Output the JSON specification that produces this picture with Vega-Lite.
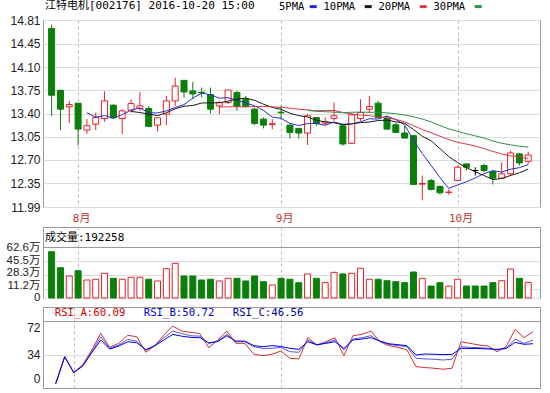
{
  "$schema": "https://vega.github.io/schema/vega-lite/v6.json",
  "autosize": {"type": "none"},
  "padding": {"left": 43, "top": 20, "right": 507, "bottom": 373},
  "background": "#ffffff",
  "config": {
    "view": {"stroke": "#9a9a9a", "strokeWidth": 1},
    "axis": {"labelFont": "Liberation Sans, Noto Sans CJK SC", "labelFontSize": 12, "labelColor": "#222222", "ticks": false, "domain": false, "gridColor": "#dcdcdc", "title": null, "labelOverlap": false},
    "title": {"font": "DejaVu Sans Mono, Noto Sans CJK SC", "fontSize": 11, "fontWeight": "normal", "color": "#000000", "anchor": "start", "frame": "group"}
  },
  "resolve": {"scale": {"color": "independent", "stroke": "independent"}, "legend": {"color": "independent", "stroke": "independent"}},
  "datasets": {
    "k": [
      {"i":0,"date":"2016-07-27","open":14.68,"high":14.74,"low":13.365,"close":13.675,"vol":56.8,"ra":null,"rb":null,"rc":null},
      {"i":1,"date":"2016-07-28","open":13.75,"high":13.75,"low":13.15,"close":13.465,"vol":37.2,"ra":2,"rb":2,"rc":2},
      {"i":2,"date":"2016-07-29","open":13.5,"high":13.59,"low":13.255,"close":13.535,"vol":27.0,"ra":32,"rb":32,"rc":32},
      {"i":3,"date":"2016-08-01","open":13.555,"high":13.555,"low":12.915,"close":13.165,"vol":33.5,"ra":14.4,"rb":14.4,"rc":14.4},
      {"i":4,"date":"2016-08-02","open":13.15,"high":13.315,"low":13.09,"close":13.215,"vol":22.1,"ra":23,"rb":22,"rc":21.5},
      {"i":5,"date":"2016-08-03","open":13.24,"high":13.415,"low":13.15,"close":13.34,"vol":23.0,"ra":39.6,"rb":37.5,"rc":36.5},
      {"i":6,"date":"2016-08-04","open":13.325,"high":13.735,"low":13.275,"close":13.59,"vol":30.3,"ra":58,"rb":54.4,"rc":50.7},
      {"i":7,"date":"2016-08-05","open":13.525,"high":13.54,"low":13.325,"close":13.335,"vol":24.2,"ra":42.5,"rb":41.4,"rc":40.5},
      {"i":8,"date":"2016-08-08","open":13.325,"high":13.465,"low":13.09,"close":13.44,"vol":23.0,"ra":47,"rb":45,"rc":44},
      {"i":9,"date":"2016-08-09","open":13.45,"high":13.615,"low":13.415,"close":13.55,"vol":25.4,"ra":56,"rb":51.4,"rc":48.8},
      {"i":10,"date":"2016-08-10","open":13.475,"high":13.725,"low":13.44,"close":13.515,"vol":25.4,"ra":54.4,"rb":49.5,"rc":47.7},
      {"i":11,"date":"2016-08-11","open":13.475,"high":13.515,"low":13.205,"close":13.205,"vol":23.0,"ra":37,"rb":39,"rc":40},
      {"i":12,"date":"2016-08-12","open":13.225,"high":13.335,"low":13.13,"close":13.335,"vol":20.9,"ra":44.4,"rb":44.4,"rc":44.2},
      {"i":13,"date":"2016-08-15","open":13.39,"high":13.665,"low":13.225,"close":13.59,"vol":36.0,"ra":56.2,"rb":53.3,"rc":50.7},
      {"i":14,"date":"2016-08-16","open":13.59,"high":13.94,"low":13.515,"close":13.815,"vol":42.6,"ra":66.2,"rb":60.7,"rc":57},
      {"i":15,"date":"2016-08-17","open":13.9,"high":13.9,"low":13.64,"close":13.725,"vol":27.0,"ra":60.7,"rb":58,"rc":55},
      {"i":16,"date":"2016-08-18","open":13.74,"high":13.875,"low":13.615,"close":13.695,"vol":27.0,"ra":59.2,"rb":55.5,"rc":53.6},
      {"i":17,"date":"2016-08-19","open":13.72,"high":13.79,"low":13.64,"close":13.71,"vol":22.1,"ra":58,"rb":55,"rc":53.3},
      {"i":18,"date":"2016-08-22","open":13.685,"high":13.79,"low":13.4,"close":13.465,"vol":23.0,"ra":42.1,"rb":47,"rc":47.5},
      {"i":19,"date":"2016-08-23","open":13.515,"high":13.59,"low":13.39,"close":13.565,"vol":20.9,"ra":50.7,"rb":49.5,"rc":49},
      {"i":20,"date":"2016-08-24","open":13.565,"high":13.755,"low":13.54,"close":13.755,"vol":24.2,"ra":60.7,"rb":57,"rc":55.5},
      {"i":21,"date":"2016-08-25","open":13.715,"high":13.74,"low":13.44,"close":13.505,"vol":24.2,"ra":47,"rb":48.8,"rc":49.5},
      {"i":22,"date":"2016-08-26","open":13.615,"high":13.665,"low":13.49,"close":13.505,"vol":20.9,"ra":47,"rb":48.8,"rc":49.5},
      {"i":23,"date":"2016-08-29","open":13.465,"high":13.49,"low":13.225,"close":13.25,"vol":27.0,"ra":34.7,"rb":43.3,"rc":44.4},
      {"i":24,"date":"2016-08-30","open":13.315,"high":13.34,"low":13.175,"close":13.225,"vol":20.0,"ra":33.3,"rb":41.4,"rc":43.3},
      {"i":25,"date":"2016-08-31","open":13.235,"high":13.315,"low":13.165,"close":13.245,"vol":16.0,"ra":34.7,"rb":41.4,"rc":44.4},
      {"i":26,"date":"2016-09-01","open":13.42,"high":13.52,"low":13.31,"close":13.41,"vol":24.2,"ra":38.4,"rb":42.5,"rc":43.5},
      {"i":27,"date":"2016-09-02","open":13.225,"high":13.225,"low":13.025,"close":13.115,"vol":23.0,"ra":30.3,"rb":37.7,"rc":41.4},
      {"i":28,"date":"2016-09-05","open":13.175,"high":13.175,"low":13.025,"close":13.105,"vol":18.8,"ra":29.6,"rb":37,"rc":40.3},
      {"i":29,"date":"2016-09-06","open":13.105,"high":13.39,"low":12.925,"close":13.365,"vol":29.5,"ra":53.3,"rb":50.7,"rc":48.8},
      {"i":30,"date":"2016-09-07","open":13.34,"high":13.34,"low":13.215,"close":13.25,"vol":24.2,"ra":45.1,"rb":45.5,"rc":45.3},
      {"i":31,"date":"2016-09-08","open":13.255,"high":13.34,"low":13.225,"close":13.275,"vol":18.8,"ra":48.8,"rb":47.7,"rc":47},
      {"i":32,"date":"2016-09-09","open":13.325,"high":13.565,"low":13.29,"close":13.365,"vol":31.5,"ra":53.3,"rb":50.7,"rc":48.8},
      {"i":33,"date":"2016-09-12","open":13.215,"high":13.215,"low":12.915,"close":12.94,"vol":29.5,"ra":33.3,"rb":39.6,"rc":41.4},
      {"i":34,"date":"2016-09-13","open":12.95,"high":13.405,"low":12.94,"close":13.38,"vol":30.3,"ra":55.5,"rb":51.8,"rc":50.7},
      {"i":35,"date":"2016-09-14","open":13.325,"high":13.615,"low":13.29,"close":13.415,"vol":36.5,"ra":57,"rb":53.3,"rc":51.8},
      {"i":36,"date":"2016-09-19","open":13.465,"high":13.665,"low":13.405,"close":13.505,"vol":23.0,"ra":60.7,"rb":55.5,"rc":53.3},
      {"i":37,"date":"2016-09-20","open":13.555,"high":13.59,"low":13.33,"close":13.34,"vol":23.0,"ra":48.8,"rb":49.2,"rc":49.6},
      {"i":38,"date":"2016-09-21","open":13.325,"high":13.365,"low":13.155,"close":13.165,"vol":21.2,"ra":44.4,"rb":45.9,"rc":46.5},
      {"i":39,"date":"2016-09-22","open":13.23,"high":13.265,"low":13.105,"close":13.115,"vol":20.0,"ra":42.5,"rb":44.5,"rc":45.5},
      {"i":40,"date":"2016-09-23","open":13.105,"high":13.215,"low":13.025,"close":13.03,"vol":18.8,"ra":39.6,"rb":43.3,"rc":44.4},
      {"i":41,"date":"2016-09-26","open":13.065,"high":13.065,"low":12.33,"close":12.33,"vol":31.9,"ra":21,"rb":30.3,"rc":34},
      {"i":42,"date":"2016-09-27","open":12.335,"high":12.465,"low":12.09,"close":12.345,"vol":24.2,"ra":19.9,"rb":29.6,"rc":35},
      {"i":43,"date":"2016-09-28","open":12.39,"high":12.415,"low":12.24,"close":12.255,"vol":14.7,"ra":19.2,"rb":29.2,"rc":34.8},
      {"i":44,"date":"2016-09-29","open":12.3,"high":12.315,"low":12.175,"close":12.205,"vol":18.8,"ra":18.1,"rb":28.4,"rc":34.4},
      {"i":45,"date":"2016-09-30","open":12.21,"high":12.255,"low":12.175,"close":12.215,"vol":14.7,"ra":19.2,"rb":29.2,"rc":34.7},
      {"i":46,"date":"2016-10-10","open":12.39,"high":12.615,"low":12.39,"close":12.59,"vol":23.0,"ra":48.8,"rb":43.3,"rc":41.4},
      {"i":47,"date":"2016-10-11","open":12.64,"high":12.64,"low":12.54,"close":12.59,"vol":14.7,"ra":47,"rb":42.5,"rc":41.2},
      {"i":48,"date":"2016-10-12","open":12.54,"high":12.59,"low":12.465,"close":12.54,"vol":14.7,"ra":45.1,"rb":42.1,"rc":41.2},
      {"i":49,"date":"2016-10-13","open":12.615,"high":12.64,"low":12.515,"close":12.54,"vol":14.7,"ra":44,"rb":41.4,"rc":40.7},
      {"i":50,"date":"2016-10-14","open":12.525,"high":12.54,"low":12.33,"close":12.425,"vol":18.8,"ra":37.7,"rb":39.6,"rc":40.3},
      {"i":51,"date":"2016-10-17","open":12.425,"high":12.665,"low":12.425,"close":12.49,"vol":21.2,"ra":43.3,"rb":41.4,"rc":41.2},
      {"i":52,"date":"2016-10-18","open":12.49,"high":12.84,"low":12.465,"close":12.805,"vol":35.6,"ra":62.5,"rb":51.8,"rc":48.1},
      {"i":53,"date":"2016-10-19","open":12.79,"high":12.805,"low":12.615,"close":12.655,"vol":24.2,"ra":53.3,"rb":47,"rc":45.9},
      {"i":54,"date":"2016-10-20","open":12.68,"high":12.825,"low":12.64,"close":12.775,"vol":19.2258,"ra":60.09,"rb":50.72,"rc":46.56}
    ]
  },
  "spacing": 20,
  "bounds": "flush",
  "vconcat": [
    {
      "width": 497,
      "height": 187,
      "title": {"text": "江特电机[002176] 2016-10-20 15:00", "dx": 2, "offset": -10},
      "data": {"name": "k"},
      "encoding": {
        "x": {"field": "i", "type": "quantitative", "scale": {"domain": [-0.41, 54.77], "nice": false, "zero": false},
          "axis": {"values": [3, 26, 46], "labelExpr": "datum.value == 3 ? '8月' : datum.value == 26 ? '9月' : '10月'", "grid": true, "gridDash": [3, 3], "gridColor": "#b8b8b8", "labelColor": "#c0392b", "labelFont": "DejaVu Sans Mono, Noto Sans CJK SC", "labelFontSize": 11, "labelPadding": 5, "labelOffset": 3}}
      },
      "layer": [
        {
          "mark": {"type": "rule", "strokeWidth": 1},
          "encoding": {
            "y": {"field": "low", "type": "quantitative", "scale": {"domain": [11.99, 14.81], "nice": false, "zero": false},
              "axis": {"values": [11.99, 12.35, 12.7, 13.05, 13.4, 13.75, 14.1, 14.45, 14.81], "format": ".2f", "grid": true, "labelPadding": 3, "labelOverlap": false}},
            "y2": {"field": "high"},
            "color": {"condition": [{"test": "datum.close > datum.open", "value": "#e3202a"}, {"test": "datum.close < datum.open", "value": "#0a7f0a"}], "value": "#000000"}
          }
        },
        {
          "mark": {"type": "bar", "width": 6, "strokeWidth": 1},
          "encoding": {
            "y": {"field": "open", "type": "quantitative", "axis": {"values": [11.99, 12.35, 12.7, 13.05, 13.4, 13.75, 14.1, 14.45, 14.81], "format": ".2f", "grid": true, "labelPadding": 3, "labelOverlap": false}},
            "y2": {"field": "close"},
            "fill": {"condition": [{"test": "datum.close > datum.open", "value": "#ffffff"}, {"test": "datum.close < datum.open", "value": "#0a7f0a"}], "value": "#000000"},
            "stroke": {"condition": [{"test": "datum.close > datum.open", "value": "#e3202a"}, {"test": "datum.close < datum.open", "value": "#0a7f0a"}], "value": "#000000"}
          }
        },
        {
          "transform": [
            {"window": [{"op": "mean", "field": "close", "as": "ma5"}], "frame": [-4, 0], "sort": [{"field": "i"}]},
            {"window": [{"op": "mean", "field": "close", "as": "ma10"}], "frame": [-9, 0], "sort": [{"field": "i"}]},
            {"window": [{"op": "mean", "field": "close", "as": "ma20"}], "frame": [-19, 0], "sort": [{"field": "i"}]},
            {"window": [{"op": "mean", "field": "close", "as": "ma30"}], "frame": [-29, 0], "sort": [{"field": "i"}]},
            {"fold": ["ma5", "ma10", "ma20", "ma30"], "as": ["ma", "val"]},
            {"filter": "(datum.ma == 'ma5' && datum.i >= 4) || (datum.ma == 'ma10' && datum.i >= 9) || (datum.ma == 'ma20' && datum.i >= 19) || (datum.ma == 'ma30' && datum.i >= 29)"}
          ],
          "mark": {"type": "line", "strokeWidth": 1},
          "encoding": {
            "y": {"field": "val", "type": "quantitative", "axis": {"values": [11.99, 12.35, 12.7, 13.05, 13.4, 13.75, 14.1, 14.45, 14.81], "format": ".2f", "grid": true, "labelPadding": 3, "labelOverlap": false}},
            "color": {"field": "ma", "type": "nominal",
              "scale": {"domain": ["ma5", "ma10", "ma20", "ma30"], "range": ["#2b2bd0", "#1a1a1a", "#d83a4a", "#2f8f4f"]},
              "legend": {"orient": "none", "legendX": 236, "legendY": -19, "direction": "horizontal", "padding": 0,
                "title": "5PMA", "titleOrient": "left", "titleFont": "DejaVu Sans Mono", "titleFontSize": 10.5, "titleFontWeight": "normal", "titleColor": "#000000", "titlePadding": 3,
                "labelFont": "DejaVu Sans Mono", "labelFontSize": 10.5, "labelColor": "#000000", "labelOffset": 5, "columnPadding": 2,
                "symbolType": "stroke", "symbolSize": 49, "symbolStrokeWidth": 3,
                "labelExpr": "datum.value == 'ma5' ? '10PMA' : datum.value == 'ma10' ? '20PMA' : datum.value == 'ma20' ? '30PMA' : ''"}}
          }
        }
      ]
    },
    {
      "spacing": 9,
      "bounds": "flush",
      "resolve": {"scale": {"color": "independent", "stroke": "independent"}, "legend": {"color": "independent", "stroke": "independent"}},
      "vconcat": [
        {
          "width": 497,
          "height": 71,
          "title": {"text": "成交量:192258", "dx": 2, "offset": -16},
          "data": {"name": "k"},
          "mark": {"type": "bar", "width": 6, "orient": "vertical", "strokeWidth": 1},
          "encoding": {
            "x": {"field": "i", "type": "quantitative", "scale": {"domain": [-0.41, 54.77], "nice": false, "zero": false},
              "axis": {"values": [3, 26, 46], "labels": false, "grid": true, "gridDash": [3, 3], "gridColor": "#b8b8b8"}},
            "y": {"field": "vol", "type": "quantitative", "scale": {"domain": [0, 87.15], "nice": false},
              "axis": {"values": [0, 11.2, 28.3, 45.5, 62.6], "labelExpr": "datum.value == 0 ? '0' : format(datum.value, '.1f') + '万'", "grid": true, "labelPadding": 3, "labelFontSize": 11.5,
                "labelOffset": {"condition": [{"test": "datum.value == 11.2", "value": -3}, {"test": "datum.value == 28.3", "value": -2}, {"test": "datum.value == 0", "value": -1}], "value": 0},
                "gridColor": {"condition": {"test": "datum.value == 62.6", "value": "#9a9a9a"}, "value": "#dcdcdc"}}},
            "fill": {"condition": {"test": "datum.close > datum.open", "value": "#ffffff"}, "value": "#0a7f0a"},
            "stroke": {"condition": {"test": "datum.close > datum.open", "value": "#e3202a"}, "value": "#0a7f0a"}
          }
        },
        {
          "width": 497,
          "height": 81,
          "data": {"name": "k"},
          "transform": [
            {"fold": ["ra", "rb", "rc"], "as": ["k", "rsi"]},
            {"filter": "isValid(datum.rsi)"}
          ],
          "mark": {"type": "line", "strokeWidth": 1},
          "encoding": {
            "x": {"field": "i", "type": "quantitative", "scale": {"domain": [-0.41, 54.77], "nice": false, "zero": false},
              "axis": {"values": [3, 26, 46], "labels": false, "grid": true, "gridDash": [3, 3], "gridColor": "#b8b8b8"}},
            "y": {"field": "rsi", "type": "quantitative", "scale": {"domain": [-2.9, 87.6], "nice": false, "zero": false},
              "axis": {"values": [0, 34, 72], "grid": true, "labelPadding": 3,
                "gridColor": {"condition": {"test": "datum.value == 72", "value": "#9a9a9a"}, "value": "#dcdcdc"},
                "gridOpacity": {"condition": {"test": "datum.value == 0", "value": 0}, "value": 1},
                "labelOffset": {"condition": [{"test": "datum.value == 72", "value": 7}, {"test": "datum.value == 0", "value": -7}], "value": 0}}},
            "stroke": {"field": "k", "type": "nominal",
              "scale": {"domain": ["ra", "rb", "rc"], "range": ["#d03030", "#5a5acc", "#0000ee"]},
              "legend": {"orient": "none", "legendX": 1, "legendY": 0, "direction": "horizontal", "padding": 0, "title": null,
                "symbolSize": 0, "symbolOpacity": 0, "symbolStrokeWidth": 0, "labelOffset": 0, "columnPadding": 7,
                "labelFont": "DejaVu Sans Mono", "labelFontSize": 10.7,
                "labelExpr": "datum.value == 'ra' ? 'RSI_A:60.09' : datum.value == 'rb' ? 'RSI_B:50.72' : 'RSI_C:46.56'",
                "labelColor": {"expr": "datum.value == 'ra' ? '#dd0000' : datum.value == 'rb' ? '#0000dd' : '#0000aa'"}}}
          }
        }
      ]
    }
  ]
}
